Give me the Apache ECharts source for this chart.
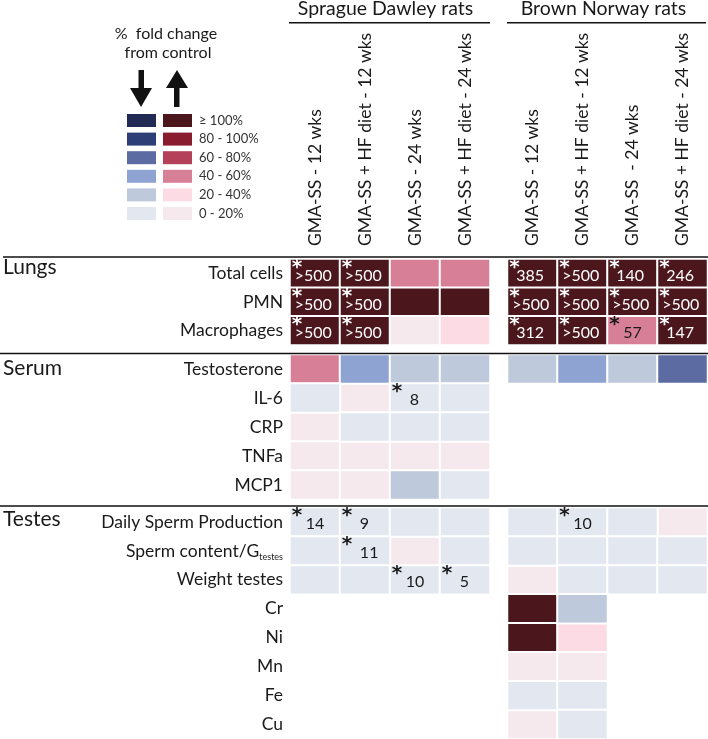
<!DOCTYPE html>
<html>
<head>
<meta charset="utf-8">
<script src="https://cdn.jsdelivr.net/npm/echarts@6/dist/echarts.min.js"></script>
<style>
html, body { margin: 0; padding: 0; background: #fff; }
#chart { width: 708px; height: 739px; }
</style>
</head>
<body>
<div id="chart"></div>
<script>
var sdColumns = ['GMA-SS - 12 wks', 'GMA-SS + HF diet - 12 wks', 'GMA-SS - 24 wks', 'GMA-SS + HF diet - 24 wks'];
var bnColumns = ['GMA-SS - 12 wks', 'GMA-SS + HF diet - 12 wks', 'GMA-SS  - 24 wks', 'GMA-SS + HF diet - 24 wks'];

var lungRows = ['Total cells', 'PMN', 'Macrophages'];
var serumRows = ['Testosterone', 'IL-6', 'CRP', 'TNFa', 'MCP1'];
var testesRows = ['Daily Sperm Production', 'Sperm content/G_testes', 'Weight testes', 'Cr', 'Ni', 'Mn', 'Fe', 'Cu'];

// % change from control (negative = decrease), null = not measured
var lungsSD = [[500, 500, 50, 50], [500, 500, 150, 150], [500, 500, 10, 30]];
var lungsBN = [[385, 500, 140, 246], [500, 500, 500, 500], [312, 500, 57, 147]];
var serumSD = [[50, -50, -30, -30], [-10, 10, -8, -10], [10, -10, -10, -10], [10, 10, 10, 10], [10, 10, -30, -10]];
var serumBN = [[-30, -50, -30, -70], [null, null, null, null], [null, null, null, null], [null, null, null, null], [null, null, null, null]];
var testesSD = [[-14, -9, -10, -10], [-10, -11, 10, -10], [-10, -10, -10, -5],
  [null, null, null, null], [null, null, null, null], [null, null, null, null], [null, null, null, null], [null, null, null, null]];
var testesBN = [[-10, -10, -10, 10], [-10, -10, -10, -10], [10, -10, -10, -10],
  [150, -30, null, null], [150, 30, null, null], [10, 10, null, null], [-10, -10, null, null], [10, -10, null, null]];

// significant cells (*) and the value printed next to the star
var lungsSDStars = [['>500', '>500', '', ''], ['>500', '>500', '', ''], ['>500', '>500', '', '']];
var lungsBNStars = [['385', '>500', '140', '246'], ['>500', '>500', '>500', '>500'], ['312', '>500', '57', '147']];
var serumSDStars = [['', '', '', ''], ['', '', ' 8', '']];
var serumBNStars = [];
var testesSDStars = [['14', ' 9', '', ''], ['', ' 11', '', ''], ['', '', '10', ' 5']];
var testesBNStars = [['', '10', '', '']];

var legendLabels = ['0 - 20%', '20 - 40%', '40 - 60%', '60 - 80%', '80 - 100%', '\u2265 100%'];
var binEdges = [0, 20, 40, 60, 80, 100];
var redShades = ['#f6e9ee', '#fcdbe5', '#d77f97', '#b5405a', '#8a1c2f', '#4b171c'];
var blueShades = ['#e2e7f0', '#bec9db', '#8fa3d2', '#5d6ba3', '#2e3f78', '#202a55'];

var FONT = 'Lato';
var INK = '#1a1a1a';

var sections = [
  {rows: lungRows, sd: lungsSD, bn: lungsBN, sdStars: lungsSDStars, bnStars: lungsBNStars, top: 259, height: 86},
  {rows: serumRows, sd: serumSD, bn: serumBN, sdStars: serumSDStars, bnStars: serumBNStars, top: 354.5, height: 145},
  {rows: testesRows, sd: testesSD, bn: testesBN, sdStars: testesSDStars, bnStars: testesBNStars, top: 507.5, height: 231.5}
];

var grids = [], xAxes = [], yAxes = [], series = [];
var incSeries = [], decSeries = [];

var cellLabel = {
  show: true,
  position: 'insideTopLeft',
  distance: 0,
  padding: [0, 0, 0, 3],
  formatter: function (p) {
    var mark = p.data[3];
    if (!mark) return '';
    var tone = Math.abs(p.data[2]) >= 80 ? 'w' : 'd';
    var trimmed = mark.trim();
    // long values sit under the star, short ones beside it
    var star = trimmed.charAt(0) === '>' ? 'x' : (trimmed.length >= 3 ? 'm' : 's');
    return '{' + star + tone + '|*}{n' + tone + '|' + mark + '}';
  },
  rich: {}
};
['w', 'd'].forEach(function (tone) {
  var c = tone === 'w' ? '#fff' : INK;
  var star = {color: c, fontFamily: 'DejaVu Sans', fontWeight: 'bold', fontSize: 20, lineHeight: 26, verticalAlign: 'top'};
  cellLabel.rich['s' + tone] = Object.assign({width: 14}, star);
  cellLabel.rich['x' + tone] = Object.assign({width: 3}, star);
  cellLabel.rich['m' + tone] = Object.assign({width: 7}, star);
  cellLabel.rich['n' + tone] = {color: c, fontFamily: FONT, fontSize: 16, lineHeight: 26, verticalAlign: 'bottom'};
});

sections.forEach(function (sec, si) {
  [0, 1].forEach(function (strain) {
    var gi = grids.length;
    var values = strain ? sec.bn : sec.sd;
    var stars = strain ? sec.bnStars : sec.sdStars;
    grids.push({left: strain ? 507.5 : 290, width: 200, top: sec.top, height: sec.height});
    xAxes.push({
      type: 'category', gridIndex: gi, position: 'top',
      data: strain ? bnColumns : sdColumns,
      axisLine: {show: false}, axisTick: {show: false}, splitLine: {show: false},
      axisLabel: {show: false}
    });
    yAxes.push({
      type: 'category', gridIndex: gi, inverse: true, data: sec.rows,
      axisLine: {show: false}, axisTick: {show: false}, splitLine: {show: false},
      axisLabel: {
        show: strain === 0, margin: 7, interval: 0, fontFamily: FONT, fontSize: 17.5, color: INK,
        formatter: function (v) { return v.replace(/_(\w+)/, '{sub|$1}'); },
        rich: {sub: {fontFamily: FONT, fontSize: 9, color: INK, padding: [12, 0, 0, 0]}}
      }
    });
    var up = [], down = [];
    values.forEach(function (row, r) {
      row.forEach(function (v, c) {
        if (v == null) return;
        var mark = (stars[r] && stars[r][c]) || '';
        (v >= 0 ? up : down).push([c, r, v, mark]);
      });
    });
    [[up, incSeries], [down, decSeries]].forEach(function (pair) {
      pair[1].push(series.length);
      series.push({
        type: 'heatmap', xAxisIndex: gi, yAxisIndex: gi, data: pair[0],
        itemStyle: {borderColor: '#fff', borderWidth: 2},
        label: cellLabel,
        emphasis: {disabled: true}
      });
    });
  });
});

function pieces(sign) {
  return binEdges.map(function (lo, i) {
    var hi = binEdges[i + 1];
    var p = {color: sign > 0 ? redShades[i] : blueShades[i], label: legendLabels[i]};
    if (sign > 0) { p.gte = lo; if (hi != null) p.lt = hi; }
    else { p.lt = -lo; if (hi != null) p.gte = -hi; }
    return p;
  });
}

var legendBase = {
  type: 'piecewise', orient: 'vertical', top: 114, padding: 0, dimension: 2,
  itemWidth: 29, itemHeight: 13, itemGap: 5.6, itemSymbol: 'rect',
  textGap: 7, selectedMode: false, hoverLink: false,
  textStyle: {fontFamily: FONT, fontSize: 13, color: '#333'}
};

function line(x1, y1, x2, y2) {
  return {type: 'line', z: 10, silent: true, shape: {x1: x1, y1: y1, x2: x2, y2: y2}, style: {stroke: '#111', lineWidth: 1.5}};
}
function text(str, x, y, size, align, rotation) {
  return {type: 'text', x: x, y: y, rotation: rotation || 0, silent: true,
    style: {text: str, fill: INK, font: size + 'px ' + FONT, textAlign: align || 'left', textVerticalAlign: 'middle'}};
}

var graphics = [
  text('Sprague Dawley rats', 385.5, 9, 19.5, 'center'),
  text('Brown Norway rats', 603.5, 9, 19.5, 'center'),
  line(289, 22.7, 490, 22.7),
  line(507, 22.7, 706, 22.7),
  text('%  fold change', 166, 34, 16, 'center'),
  text('from control', 168, 53, 16, 'center'),
  {type: 'polygon', silent: true, shape: {points: [[138.5, 70], [144, 70], [144, 88], [152, 88], [141, 107], [130, 88], [138.5, 88]]}, style: {fill: '#111'}},
  {type: 'polygon', silent: true, shape: {points: [[177, 70], [188, 88], [179.5, 88], [179.5, 107], [174, 107], [174, 88], [166, 88]]}, style: {fill: '#111'}},
  line(3, 257, 708, 257),
  line(0, 353.5, 708, 353.5),
  line(0, 506, 708, 506),
  text('Lungs', 3, 267, 21),
  text('Serum', 3, 368, 21),
  text('Testes', 3, 519, 21)
];

var chart = echarts.init(document.getElementById('chart'));
chart.setOption({
  animation: false,
  grid: grids,
  xAxis: xAxes,
  yAxis: yAxes,
  series: series,
  visualMap: [
    Object.assign({seriesIndex: incSeries, left: 163, pieces: pieces(1)}, legendBase),
    Object.assign({seriesIndex: decSeries, left: 127, pieces: pieces(-1), showLabel: false, inverse: true}, legendBase)
  ]
});

// vertical column headers, placed on the category centres of the lung grids
[[0, sdColumns], [1, bnColumns]].forEach(function (pair) {
  pair[1].forEach(function (name, i) {
    var pt = chart.convertToPixel({xAxisIndex: pair[0], yAxisIndex: pair[0]}, [i, 0]);
    graphics.push(text(name, pt[0], 246, 17.5, 'left', Math.PI / 2));
  });
});
chart.setOption({graphic: graphics});
</script>
</body>
</html>
